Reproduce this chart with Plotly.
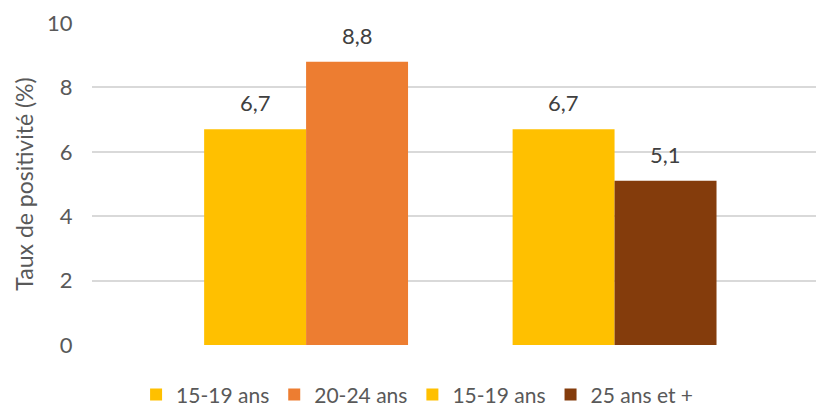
import plotly.graph_objects as go

# data
groups = ["Groupe 1", "Groupe 2"]
series_names = ["15-19 ans", "20-24 ans", "15-19 ans", "25 ans et +"]
series_groups = [groups[0], groups[0], groups[1], groups[1]]
series_values = [6.7, 8.8, 6.7, 5.1]
series_colors = ["#FFC000", "#ED7D31", "#FFC000", "#843C0C"]
offset_groups = ["a", "b", "a", "b"]

y_ticks = [0, 2, 4, 6, 8, 10]

FONT = "Lato"
TEXT_GREY = "#595959"

fig = go.Figure()
for name, grp, val, col, og in zip(series_names, series_groups, series_values,
                                   series_colors, offset_groups):
    fig.add_trace(go.Bar(x=[grp],
                         y=[val],
                         name=name,
                         offsetgroup=og,
                         marker=dict(color=col, line=dict(width=0))))
    # value label above the bar, shifted onto its half of the group
    fig.add_annotation(x=grp, y=val,
                       text=f"{val:.1f}".replace(".", ","),
                       showarrow=False,
                       yanchor="bottom",
                       xshift=-51 if og == "a" else 51,
                       yshift=11,
                       font=dict(family=FONT, size=22, color="#404040"))

fig.update_layout(
    width=816, height=407,
    margin=dict(l=92, r=0, t=23, b=62, autoexpand=False),
    plot_bgcolor="white",
    paper_bgcolor="white",
    barmode="group",
    bargap=0.339,
    bargroupgap=0,
    font=dict(family=FONT, size=22, color=TEXT_GREY),
    showlegend=True,
    legend=dict(orientation="h",
                x=0.449, xanchor="center",
                y=-0.155, yanchor="middle",
                bgcolor="rgba(0,0,0,0)",
                font=dict(family=FONT, size=21, color=TEXT_GREY),
                itemwidth=30,
                traceorder="normal"))

fig.update_xaxes(type="category",
                 range=[-0.694, 1.653],
                 showticklabels=False,
                 showgrid=False,
                 showline=False,
                 zeroline=False,
                 automargin=False)

fig.update_yaxes(range=[0, 10],
                 tickvals=y_ticks,
                 showgrid=True,
                 gridcolor="#D9D9D9",
                 gridwidth=1.5,
                 zeroline=False,
                 showline=False,
                 ticks="outside",
                 ticklen=14,
                 tickcolor="rgba(0,0,0,0)",
                 tickfont=dict(family=FONT, size=22, color=TEXT_GREY),
                 automargin=False,
                 title=dict(text="Taux de positivité (%)",
                            font=dict(family=FONT, size=23, color=TEXT_GREY),
                            standoff=7))

# drop the default body margin so the figure fills the window exactly
fig.write_html("out.html",
               config={"displayModeBar": False},
               post_script="document.body.style.margin='0';")
